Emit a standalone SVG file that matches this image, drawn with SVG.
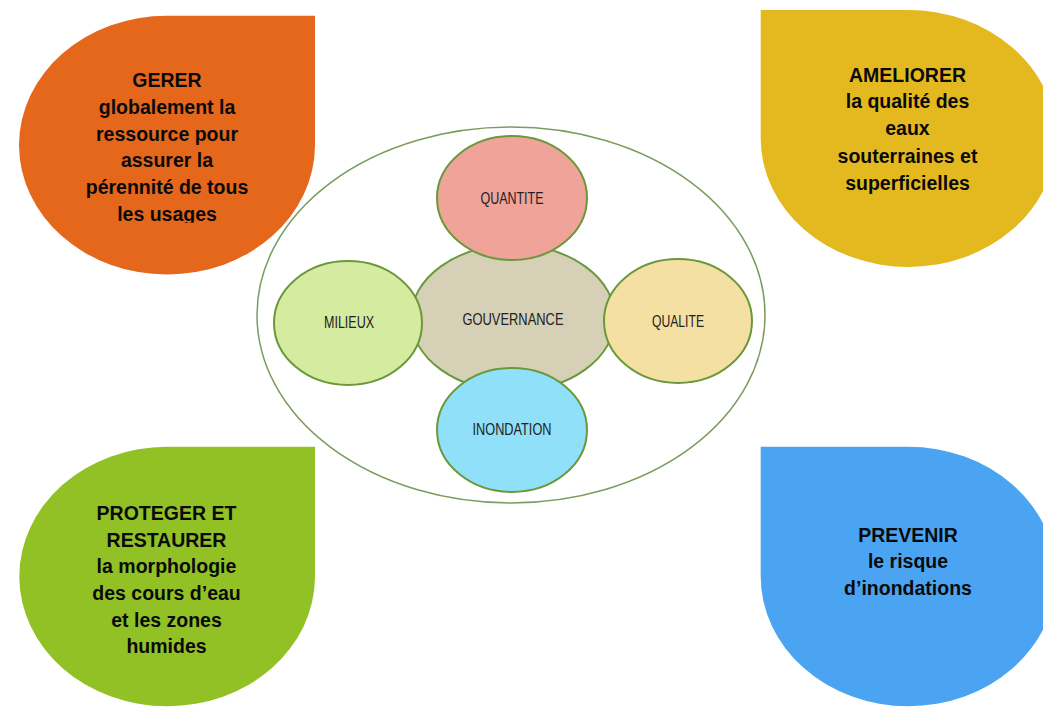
<svg xmlns="http://www.w3.org/2000/svg" width="1043" height="709" viewBox="0 0 1043 709">
  <style>
    .big { font-family: "Liberation Sans", Arial, sans-serif; font-weight: bold; font-size: 19.5px; fill: #0a0a0a; text-anchor: middle; }
    .lbl { font-family: "Liberation Sans", Arial, sans-serif; font-size: 16px; fill: #222; text-anchor: middle; }
    .inner { stroke: #6A983A; stroke-width: 2; }
  </style>
  <defs>
    <clipPath id="clipGerer"><rect x="0" y="0" width="330" height="222.8"/></clipPath>
  </defs>
  <rect width="1043" height="709" fill="#ffffff"/>

  <g id="frame">
    <ellipse cx="511" cy="315" rx="254" ry="188" fill="#ffffff" stroke="#7A9C5E" stroke-width="1.5"/>
  </g>

  <g id="gouvernance">
    <ellipse class="inner" cx="513" cy="318" rx="102" ry="73" fill="#D5D0B6"/>
    <text class="lbl" x="513" y="325" textLength="101" lengthAdjust="spacingAndGlyphs">GOUVERNANCE</text>
  </g>
  <g id="milieux">
    <ellipse class="inner" cx="348" cy="323" rx="74" ry="62" fill="#D5EBA0"/>
    <text class="lbl" x="349" y="327.5" textLength="50" lengthAdjust="spacingAndGlyphs">MILIEUX</text>
  </g>
  <g id="qualite">
    <ellipse class="inner" cx="678" cy="321" rx="74" ry="62" fill="#F3E0A2"/>
    <text class="lbl" x="678" y="326.5" textLength="52" lengthAdjust="spacingAndGlyphs">QUALITE</text>
  </g>
  <g id="quantite">
    <ellipse class="inner" cx="512" cy="198" rx="75" ry="62" fill="#F0A499"/>
    <text class="lbl" x="512" y="203.5" textLength="63" lengthAdjust="spacingAndGlyphs">QUANTITE</text>
  </g>
  <g id="inondation">
    <ellipse class="inner" cx="512" cy="430" rx="75" ry="62" fill="#8FE0F8"/>
    <text class="lbl" x="512" y="435" textLength="79" lengthAdjust="spacingAndGlyphs">INONDATION</text>
  </g>

  <g id="gerer">
    <path d="M315,15.7 L315,145 A148,129.5 0 0 1 167,274.5 A148,129.5 0 0 1 19,145 A148,129.5 0 0 1 167,15.7 Z" fill="#E5671C"/>
    <g clip-path="url(#clipGerer)">
      <text class="big" x="167" y="87.3">GERER</text>
      <text class="big" x="167" y="114">globalement la</text>
      <text class="big" x="167" y="140.7">ressource pour</text>
      <text class="big" x="167" y="167.3">assurer la</text>
      <text class="big" x="167" y="194">pérennité de tous</text>
      <text class="big" x="167" y="220.7">les usages</text>
    </g>
  </g>

  <g id="ameliorer">
    <path d="M760.7,10 L908,10 A148,128.5 0 0 1 1056,138.5 A148,128.5 0 0 1 908,267 A148,128.5 0 0 1 760.7,138.5 Z" fill="#E4B920"/>
    <text class="big" x="907.5" y="81.7">AMELIORER</text>
    <text class="big" x="907.5" y="108.3">la qualité des</text>
    <text class="big" x="907.5" y="135">eaux</text>
    <text class="big" x="907.5" y="163">souterraines et</text>
    <text class="big" x="907.5" y="190">superficielles</text>
  </g>

  <g id="proteger">
    <path d="M315,446.7 L315,576.5 A148,129.8 0 0 1 167,706.3 A148,129.8 0 0 1 19.3,576.5 A148,129.8 0 0 1 167,446.7 Z" fill="#92C125"/>
    <text class="big" x="166.5" y="520">PROTEGER ET</text>
    <text class="big" x="166.5" y="546.7">RESTAURER</text>
    <text class="big" x="166.5" y="573.3">la morphologie</text>
    <text class="big" x="166.5" y="600">des cours d’eau</text>
    <text class="big" x="166.5" y="626.7">et les zones</text>
    <text class="big" x="166.5" y="653.3">humides</text>
  </g>

  <g id="prevenir">
    <path d="M760.7,446.7 L908,446.7 A148,129.8 0 0 1 1056,576.5 A148,129.8 0 0 1 908,706.3 A148,129.8 0 0 1 760.7,576.5 Z" fill="#4AA4F2"/>
    <text class="big" x="908" y="541.7">PREVENIR</text>
    <text class="big" x="908" y="568.3">le risque</text>
    <text class="big" x="908" y="595">d’inondations</text>
  </g>

  <g id="connectors"></g>
</svg>
